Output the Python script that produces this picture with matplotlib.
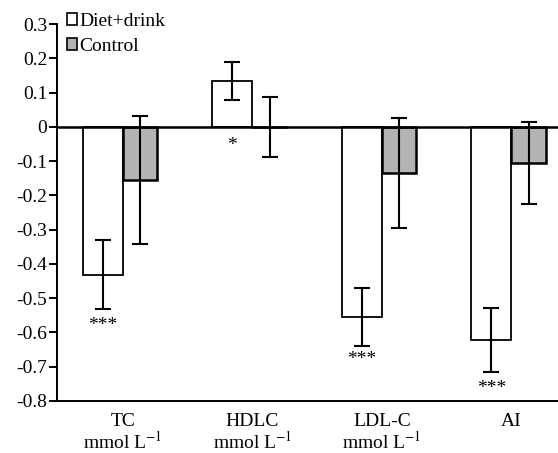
import numpy as np
import matplotlib
matplotlib.use("Agg")
import matplotlib.pyplot as plt
from matplotlib.patches import Patch

plt.rcParams["font.family"] = ["Liberation Serif", "DejaVu Serif"]
plt.rcParams["mathtext.fontset"] = "stix"

CATEGORIES = ["TC\nmmol L$^{-1}$", "HDLC\nmmol L$^{-1}$", "LDL-C\nmmol L$^{-1}$", "AI"]
DIET_MEAN = [-0.432, 0.134, -0.556, -0.623]
DIET_ERR = [0.101, 0.055, 0.085, 0.093]
CONTROL_MEAN = [-0.155, 0.0, -0.135, -0.105]
CONTROL_ERR = [0.187, 0.088, 0.160, 0.120]
STARS = ["***", "*", "***", "***"]
STAR_Y = [-0.58, -0.055, -0.68, -0.765]
YTICKS = [0.3, 0.2, 0.1, 0, -0.1, -0.2, -0.3, -0.4, -0.5, -0.6, -0.7, -0.8]

GREY = "#b4b4b4"
FS = 14

fig = plt.figure(figsize=(5.58, 4.53), dpi=100)
ax = fig.add_axes([0.102, 0.115, 0.898, 0.832])

x = np.arange(len(CATEGORIES))
w_d, w_c = 0.31, 0.265
err_kw = dict(ecolor="black", elinewidth=1.5, capsize=6, capthick=1.5)

ax.bar(x - w_d / 2, DIET_MEAN, w_d, color="white", edgecolor="black", lw=1.3,
       yerr=DIET_ERR, error_kw=err_kw, zorder=2)
ax.bar(x + w_c / 2, CONTROL_MEAN, w_c, color=GREY, edgecolor="black", lw=1.8,
       yerr=CONTROL_ERR, error_kw=err_kw, zorder=2)

ax.axhline(0, color="black", lw=1.8, zorder=3)

for xi, s, sy in zip(x, STARS, STAR_Y):
    ax.text(xi - w_d / 2, sy, s, ha="center", va="center", fontsize=FS)

ax.set_xlim(-0.51, 3.36)
ax.set_ylim(-0.8, 0.3)
ax.set_yticks(YTICKS)
ax.set_yticklabels(["0" if v == 0 else f"{v:.1f}" for v in YTICKS], fontsize=FS)
ax.set_xticks(x)
ax.set_xticklabels(CATEGORIES, fontsize=FS, linespacing=1.0)
ax.tick_params(axis="x", length=0, pad=9)
ax.tick_params(axis="y", direction="out", length=6, width=1.4, pad=1)

for side in ["top", "right"]:
    ax.spines[side].set_visible(False)
for side in ["left", "bottom"]:
    ax.spines[side].set_linewidth(1.4)

handles = [Patch(facecolor="white", edgecolor="black", lw=1.2, label="Diet+drink"),
           Patch(facecolor=GREY, edgecolor="black", lw=1.2, label="Control")]
ax.legend(handles=handles, loc="upper left", bbox_to_anchor=(-0.008, 1.065),
          frameon=False, fontsize=FS, handlelength=0.55, handleheight=0.55,
          handletextpad=0.12, labelspacing=0.4, borderaxespad=0.3)

fig.savefig("out.png", dpi=100)
